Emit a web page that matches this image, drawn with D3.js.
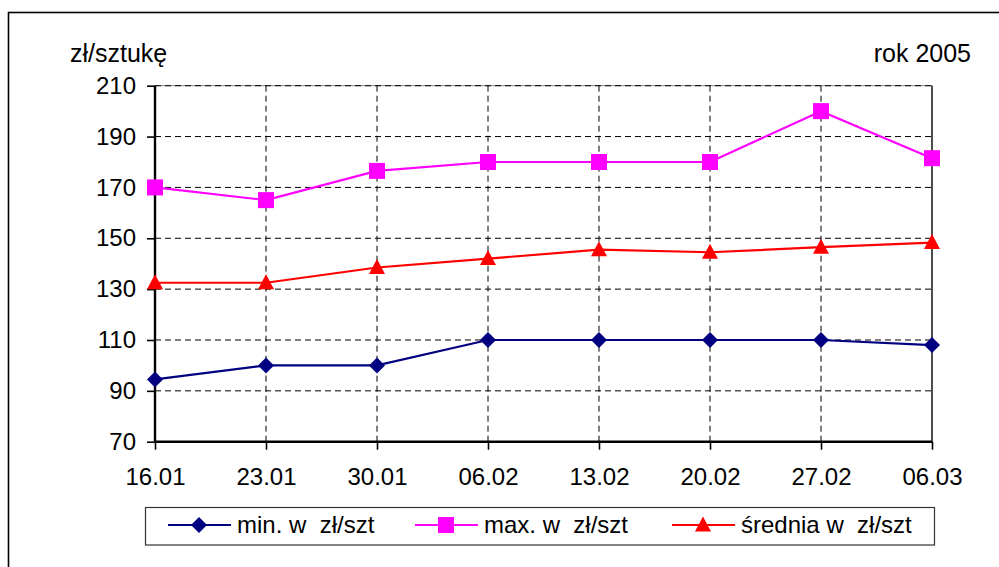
<!DOCTYPE html>
<html>
<head>
<meta charset="utf-8">
<script src="https://cdn.jsdelivr.net/npm/d3@7"></script>
<style>
html,body{margin:0;padding:0;background:#fff;}
svg{display:block;font-family:"Liberation Sans",Arial,sans-serif;}
text{white-space:pre;}
</style>
</head>
<body>
<svg id="chart" width="999" height="567"></svg>
<script>
const categories = ["16.01","23.01","30.01","06.02","13.02","20.02","27.02","06.03"];
const minValues = [94.5,100,100,110,110,110,110,108];
const maxValues = [170,165,176.5,180,180,180,200,181.5];
const avgValues = [132.5,132.5,138.5,142,145.5,144.5,146.5,148.3];
const yTicks = [70,90,110,130,150,170,190,210];
const seriesNames = ["min. w  zł/szt","max. w  zł/szt","średnia w  zł/szt"];
const seriesColors = ["#000080","#FF00FF","#FF0000"];
const yLabel = "zł/sztukę";
const yearLabel = "rok 2005";

(function(){
const svg = d3.select("#chart");
const pLeft = 155, pRight = 932, pTop = 85.7, pBottom = 441.7;

const x = d3.scalePoint().domain(categories).range([pLeft, pRight]).padding(0);
const y = d3.scaleLinear().domain([70,210]).range([pBottom, pTop]);

// outer frame
svg.append("rect").attr("x",8.5).attr("y",12.5).attr("width",1100).attr("height",700)
  .attr("fill","none").attr("stroke","#000").attr("stroke-width",1.6);

// plot area border
svg.append("rect").attr("x",pLeft).attr("y",pTop).attr("width",pRight-pLeft).attr("height",pBottom-pTop)
  .attr("fill","none").attr("stroke","#808080").attr("stroke-width",1);

// horizontal gridlines
svg.append("g").selectAll("line").data(yTicks.filter(d=>d>70)).join("line")
  .attr("x1",pLeft).attr("x2",pRight).attr("y1",d=>y(d)).attr("y2",d=>y(d))
  .attr("stroke","#000").attr("stroke-width",1).attr("stroke-dasharray","6,4");

// vertical gridlines
svg.append("g").selectAll("line").data(categories.slice(1,-1)).join("line")
  .attr("x1",d=>x(d)).attr("x2",d=>x(d)).attr("y1",pTop).attr("y2",pBottom)
  .attr("stroke","#000").attr("stroke-width",1).attr("stroke-dasharray","6,4");

// right border solid
svg.append("line").attr("x1",pRight).attr("x2",pRight).attr("y1",pTop).attr("y2",pBottom)
  .attr("stroke","#000").attr("stroke-width",1.2);

// axes
const yAxis = svg.append("g").attr("transform",`translate(${pLeft},0)`)
  .call(d3.axisLeft(y).tickValues(yTicks).tickSize(8).tickPadding(11).tickSizeOuter(0));
const xAxis = svg.append("g").attr("transform",`translate(0,${pBottom})`)
  .call(d3.axisBottom(x).tickSize(8).tickPadding(18).tickSizeOuter(0));
[yAxis,xAxis].forEach(g=>{
  g.select(".domain").attr("stroke","#000").attr("stroke-width",2.4);
  g.selectAll(".tick line").attr("stroke","#000").attr("stroke-width",1.6);
  g.selectAll(".tick text").attr("fill","#000").attr("font-size",24)
    .attr("font-family","'Liberation Sans',Arial,sans-serif");
});
yAxis.select(".domain").attr("d",`M0,${pTop}V${pBottom}`);
xAxis.select(".domain").attr("d",`M${pLeft},0H${pRight}`);

// titles
svg.append("text").attr("x",70).attr("y",62).attr("font-size",25).text(yLabel);
svg.append("text").attr("x",971).attr("y",62).attr("font-size",25).attr("text-anchor","end").text(yearLabel);

// marker drawing
function marker(g, type, cx, cy, color){
  if(type===0){
    g.append("path").attr("d",`M${cx},${cy-8}L${cx+8},${cy}L${cx},${cy+8}L${cx-8},${cy}Z`).attr("fill",color);
  } else if(type===1){
    g.append("rect").attr("x",cx-8).attr("y",cy-8).attr("width",16).attr("height",16).attr("fill",color);
  } else {
    g.append("path").attr("d",`M${cx},${cy-8.5}L${cx+8},${cy+6.5}L${cx-8},${cy+6.5}Z`).attr("fill",color);
  }
}

const allSeries = [minValues,maxValues,avgValues];
const line = d3.line().x((d,i)=>x(categories[i])).y(d=>y(d));
allSeries.forEach((vals,si)=>{
  const g = svg.append("g");
  g.append("path").datum(vals).attr("d",line).attr("fill","none")
    .attr("stroke",seriesColors[si]).attr("stroke-width",2.2);
  vals.forEach((v,i)=>marker(g,si,x(categories[i]),y(v),seriesColors[si]));
});

// legend
svg.append("rect").attr("x",145.5).attr("y",507.5).attr("width",789).attr("height",37.5)
  .attr("fill","#fff").attr("stroke","#333").attr("stroke-width",1.2);
const legendX = [168,415,672];
legendX.forEach((lx,i)=>{
  const g = svg.append("g");
  g.append("line").attr("x1",lx).attr("x2",lx+63).attr("y1",525).attr("y2",525)
    .attr("stroke",seriesColors[i]).attr("stroke-width",2.2);
  marker(g,i,lx+31,525,seriesColors[i]);
  g.append("text").attr("x",lx+69).attr("y",533).attr("font-size",24).text(seriesNames[i]);
});
})();
</script>
</body>
</html>
